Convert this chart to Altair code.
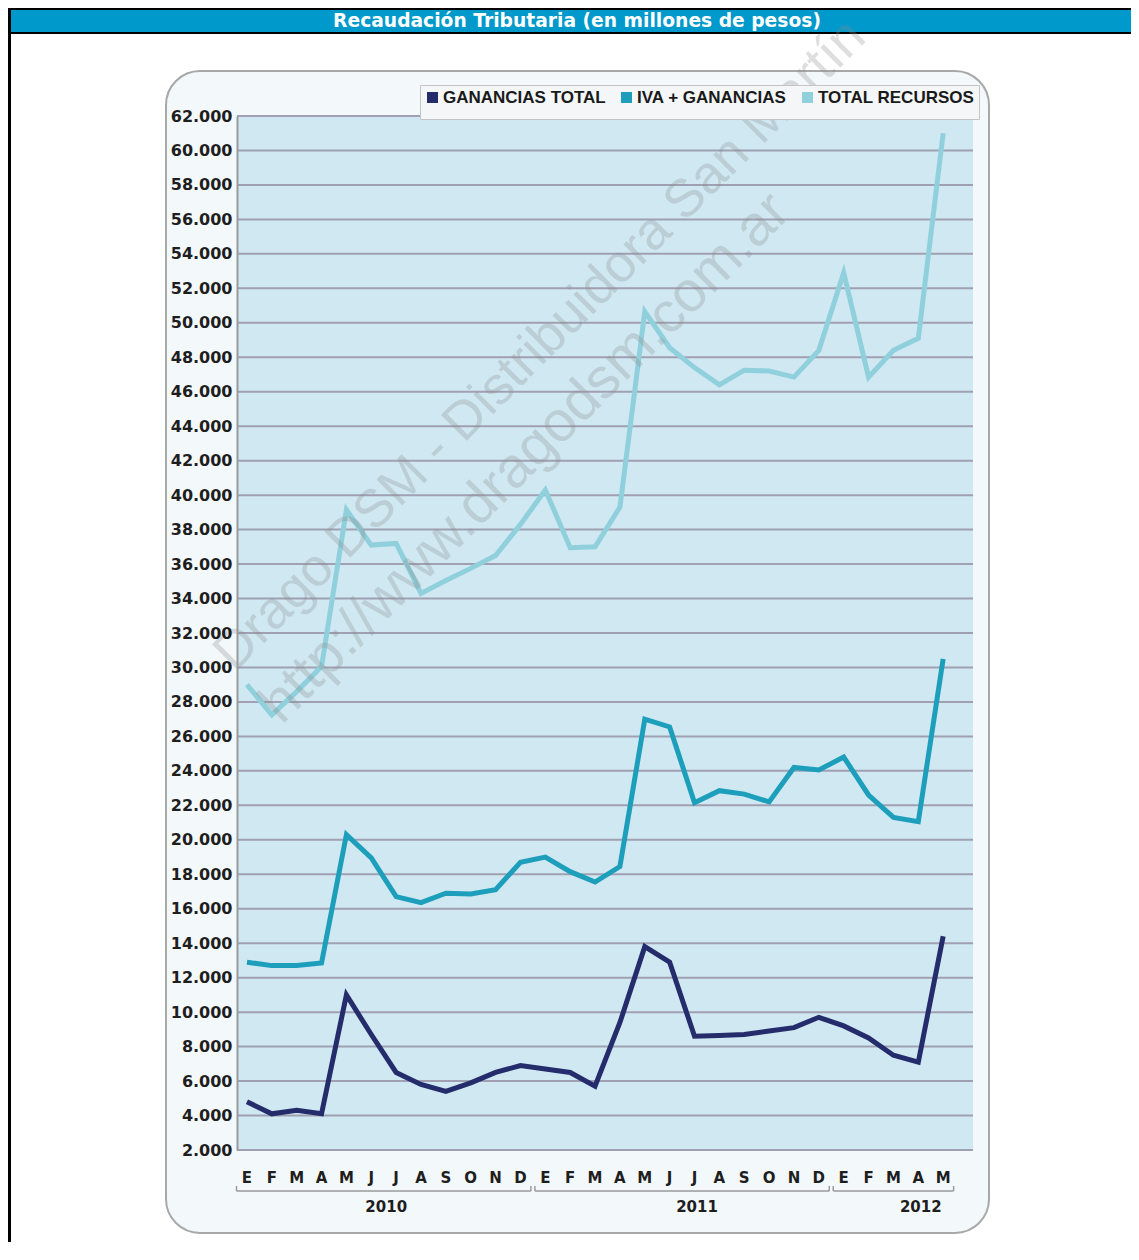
import altair as alt
import pandas as pd

# ---------------- data ----------------
months = ["E", "F", "M", "A", "M", "J", "J", "A", "S", "O", "N", "D",
          "E", "F", "M", "A", "M", "J", "J", "A", "S", "O", "N", "D",
          "E", "F", "M", "A", "M"]
ganancias = [4800, 4100, 4300, 4100, 11000, 8700, 6500, 5800, 5400, 5900, 6500, 6900,
             6700, 6500, 5700, 9400, 13800, 12900, 8600, 8650, 8700, 8900, 9100, 9700,
             9200, 8500, 7500, 7100, 14400]
iva_ganancias = [12900, 12700, 12700, 12850, 20300, 18950, 16700, 16350, 16900, 16850, 17100, 18700,
                 19000, 18150, 17550, 18450, 27000, 26550, 22150, 22850, 22650, 22200, 24200, 24050,
                 24800, 22600, 21300, 21050, 30500]
total_recursos = [29000, 27250, 28600, 30050, 39150, 37100, 37200, 34300, 35050, 35750, 36500, 38300,
                  40300, 36950, 37000, 39300, 50650, 48550, 47400, 46400, 47250, 47200, 46850, 48400,
                  52900, 46850, 48400, 49100, 61000]
series_names = ["GANANCIAS TOTAL", "IVA + GANANCIAS", "TOTAL RECURSOS"]
series_colors = ["#252c6c", "#1d9fbb", "#90d0dc"]
y_ticks = list(range(2000, 62001, 2000))
years = ["2010", "2011", "2012"]
year_first = [0, 12, 24]
year_last = [11, 23, 28]
year_label_at = [5.6, 18.1, 27.1]
title_text = "Recaudación Tributaria (en millones de pesos)"
watermarks = ["Drago DSM - Distribuidora San Martín", "http://www.dragodsm.com.ar"]

# ---------------- tables ----------------
rows = []
for k, (name, vals) in enumerate(zip(series_names, [ganancias, iva_ganancias, total_recursos])):
    for i, v in enumerate(vals):
        rows.append({"i": i, "v": v, "serie": name, "k": k})
df = pd.DataFrame(rows)
df_months = pd.DataFrame({"i": list(range(len(months))), "m": months})
df_ticks = pd.DataFrame({"v": y_ticks})
df_years = pd.DataFrame({
    "y": years,
    "a": [f - 0.42 for f in year_first],
    "b": [l + 0.42 for l in year_last],
    "p": year_label_at,
})
one = pd.DataFrame({"k": [0]})

W, H = 736, 1034
xscale = alt.Scale(domain=[-0.4, 29.2], nice=False, zero=False)
yscale = alt.Scale(domain=[2000, 62000], nice=False, zero=False)
yaxis = alt.Axis(
    values=y_ticks, title=None, grid=False, ticks=False,
    domain=True, domainColor="#9a9a9a", domainWidth=2,
    labelExpr="replace(format(datum.value, ','), ',', '.')",
    labelFont="DejaVu Sans", labelFontWeight="bold", labelFontSize=16,
    labelColor="#1e1e1e", labelPadding=5, zindex=1)

# ---------------- decoration ----------------
frame_black = alt.Chart(one).mark_rect(fill="#000000").encode(
    x=alt.value(-229), x2=alt.value(900), y=alt.value(-108), y2=alt.value(-82))
header_blue = alt.Chart(one).mark_rect(fill="#0099cb").encode(
    x=alt.value(-227), x2=alt.value(900), y=alt.value(-106), y2=alt.value(-84))
left_border = alt.Chart(one).mark_rect(fill="#000000").encode(
    x=alt.value(-229), x2=alt.value(-226), y=alt.value(-108), y2=alt.value(1130))
title = alt.Chart(one).mark_text(
    font="DejaVu Sans", fontWeight="bold", fontSize=18.7, color="white",
    align="center", baseline="middle").encode(
    x=alt.value(340), y=alt.value(-95), text=alt.value(title_text))

panel = alt.Chart(one).mark_rect(
    cornerRadius=34, fill="#f3f8fa", stroke="#a8a8a8", strokeWidth=2).encode(
    x=alt.value(-71), x2=alt.value(752), y=alt.value(-45), y2=alt.value(1117))
plot_bg = alt.Chart(one).mark_rect(fill="#cfe8f2").encode(
    x=alt.value(0), x2=alt.value(W), y=alt.value(0), y2=alt.value(H))

grid = alt.Chart(df_ticks).mark_rule(color="#a0a0b2", strokeWidth=2).encode(
    y=alt.Y("v:Q", scale=yscale, axis=yaxis))

lines = alt.Chart(df).mark_line(strokeWidth=5, strokeJoin="miter").encode(
    x=alt.X("i:Q", scale=xscale, axis=None),
    y=alt.Y("v:Q", scale=yscale, axis=yaxis),
    color=alt.Color("serie:N", scale=alt.Scale(domain=series_names, range=series_colors),
                    legend=alt.Legend(
                        title=None, orient="none", legendX=183, legendY=-31,
                        direction="horizontal", symbolType="square", symbolSize=9,
                        symbolStrokeWidth=8, labelFont="Liberation Sans",
                        labelFontSize=17, labelFontWeight="bold", labelColor="#1a1a1a",
                        labelLimit=0, fillColor="#f4f6f7", strokeColor="#c4c4c4",
                        padding=4, columnPadding=3, labelOffset=2)),
    detail="k:N",
)

month_labels = alt.Chart(df_months).mark_text(
    font="DejaVu Sans", fontWeight="bold", fontSize=15, color="#1e1e1e",
    baseline="middle").encode(
    x=alt.X("i:Q", scale=xscale, axis=None), y=alt.value(1062), text="m:N")

brackets = alt.Chart(df_years).mark_rule(color="#9a9a9a", strokeWidth=1.5).encode(
    x=alt.X("a:Q", scale=xscale, axis=None), x2="b:Q", y=alt.value(1075))
bracket_l = alt.Chart(df_years).mark_rule(color="#9a9a9a", strokeWidth=1.5).encode(
    x=alt.X("a:Q", scale=xscale, axis=None), y=alt.value(1070), y2=alt.value(1075))
bracket_r = alt.Chart(df_years).mark_rule(color="#9a9a9a", strokeWidth=1.5).encode(
    x=alt.X("b:Q", scale=xscale, axis=None), y=alt.value(1070), y2=alt.value(1075))
year_labels = alt.Chart(df_years).mark_text(
    font="DejaVu Sans", fontWeight="bold", fontSize=15, color="#1e1e1e",
    baseline="middle").encode(
    x=alt.X("p:Q", scale=xscale, axis=None), y=alt.value(1091), text="y:N")

wm1 = alt.Chart(one).mark_text(
    font="Liberation Sans", fontSize=53, angle=315, color="#8c8c8c", opacity=0.28,
    align="center", baseline="middle").encode(
    x=alt.value(303), y=alt.value(229), text=alt.value(watermarks[0]))
wm2 = alt.Chart(one).mark_text(
    font="Liberation Sans", fontSize=57, angle=315, color="#8c8c8c", opacity=0.28,
    align="center", baseline="middle").encode(
    x=alt.value(288), y=alt.value(342), text=alt.value(watermarks[1]))

chart = alt.layer(
    frame_black, header_blue, left_border, title, panel, plot_bg, grid, lines,
    month_labels, brackets, bracket_l, bracket_r, year_labels, wm1, wm2
).properties(
    width=W, height=H,
    autosize=alt.AutoSizeParams(type="none"),
    padding={"left": 229, "top": 108, "right": 158, "bottom": 92},
).configure(background="white").configure_view(strokeWidth=0)

chart.save("out.html", embed_options={"renderer": "svg", "actions": False})
